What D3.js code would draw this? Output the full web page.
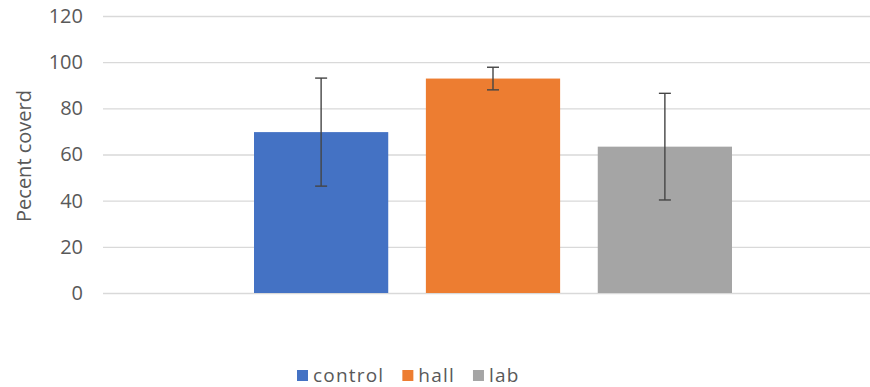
<!DOCTYPE html>
<html><head><meta charset="utf-8">
<script src="https://cdn.jsdelivr.net/npm/d3@7"></script>
<style>body{margin:0;background:#fff}svg{display:block}</style>
</head><body><svg id="c" width="870" height="387"></svg>
<script>
const seriesNames = ["control", "hall", "lab"];
const seriesValues = [69.7, 92.9, 63.4];
const seriesErrors = [23.4, 4.9, 23.1];
const seriesColors = ["#4472C4", "#ED7D31", "#A5A5A5"];
const yTicks = [0, 20, 40, 60, 80, 100, 120];
const yLabel = "Pecent coverd";

const svg = d3.select("#c");
const font = "'Open Sans', sans-serif";
const textColor = "#595959";

const y = d3.scaleLinear().domain([0, 120]).range([293, 16]);
const x = d3.scaleBand().domain(seriesNames).range([254, 732]).paddingInner(0.219).paddingOuter(0);

// gridlines
const yAxis = d3.axisLeft(y).tickValues(yTicks).tickSize(-(870 - 103)).tickPadding(20);
const g = svg.append("g").attr("transform", "translate(103,0)").call(yAxis);
g.select(".domain").remove();
g.selectAll(".tick line").attr("stroke", "#D9D9D9").attr("stroke-width", 1.3);
g.selectAll(".tick text").attr("fill", textColor).attr("font-family", font).attr("font-size", 20);

// bars
svg.selectAll("rect.bar").data(seriesNames).join("rect").attr("class", "bar")
  .attr("x", d => x(d)).attr("width", x.bandwidth())
  .attr("y", (d, i) => y(seriesValues[i]))
  .attr("height", (d, i) => y(0) - y(seriesValues[i]))
  .attr("fill", (d, i) => seriesColors[i]);

// error bars
const eb = svg.selectAll("g.err").data(seriesNames).join("g").attr("class", "err")
  .attr("stroke", "#454545").attr("stroke-width", 1.4);
eb.append("line")
  .attr("x1", d => x(d) + x.bandwidth() / 2).attr("x2", d => x(d) + x.bandwidth() / 2)
  .attr("y1", (d, i) => y(seriesValues[i] + seriesErrors[i]))
  .attr("y2", (d, i) => y(seriesValues[i] - seriesErrors[i]));
[1, -1].forEach(s => {
  eb.append("line")
    .attr("x1", d => x(d) + x.bandwidth() / 2 - 6).attr("x2", d => x(d) + x.bandwidth() / 2 + 6)
    .attr("y1", (d, i) => y(seriesValues[i] + s * seriesErrors[i]))
    .attr("y2", (d, i) => y(seriesValues[i] + s * seriesErrors[i]));
});

// y label
svg.append("text").attr("transform", "translate(31,156) rotate(-90)")
  .attr("text-anchor", "middle").attr("fill", textColor)
  .attr("font-family", font).attr("font-size", 20).text(yLabel);

// legend (laid out by measured text widths)
const lg = svg.append("g").attr("transform", "translate(297,370)");
let cx = 0;
seriesNames.forEach((name, i) => {
  const it = lg.append("g").attr("transform", `translate(${cx},0)`);
  it.append("rect").attr("width", 11).attr("height", 11).attr("fill", seriesColors[i]);
  const t = it.append("text").attr("x", 16).attr("y", 11.5).attr("fill", textColor)
    .attr("font-family", font).attr("font-size", 19).attr("letter-spacing", 1.2).text(name);
  cx += 16 + t.node().getComputedTextLength() + 18;
});
</script></body></html>
